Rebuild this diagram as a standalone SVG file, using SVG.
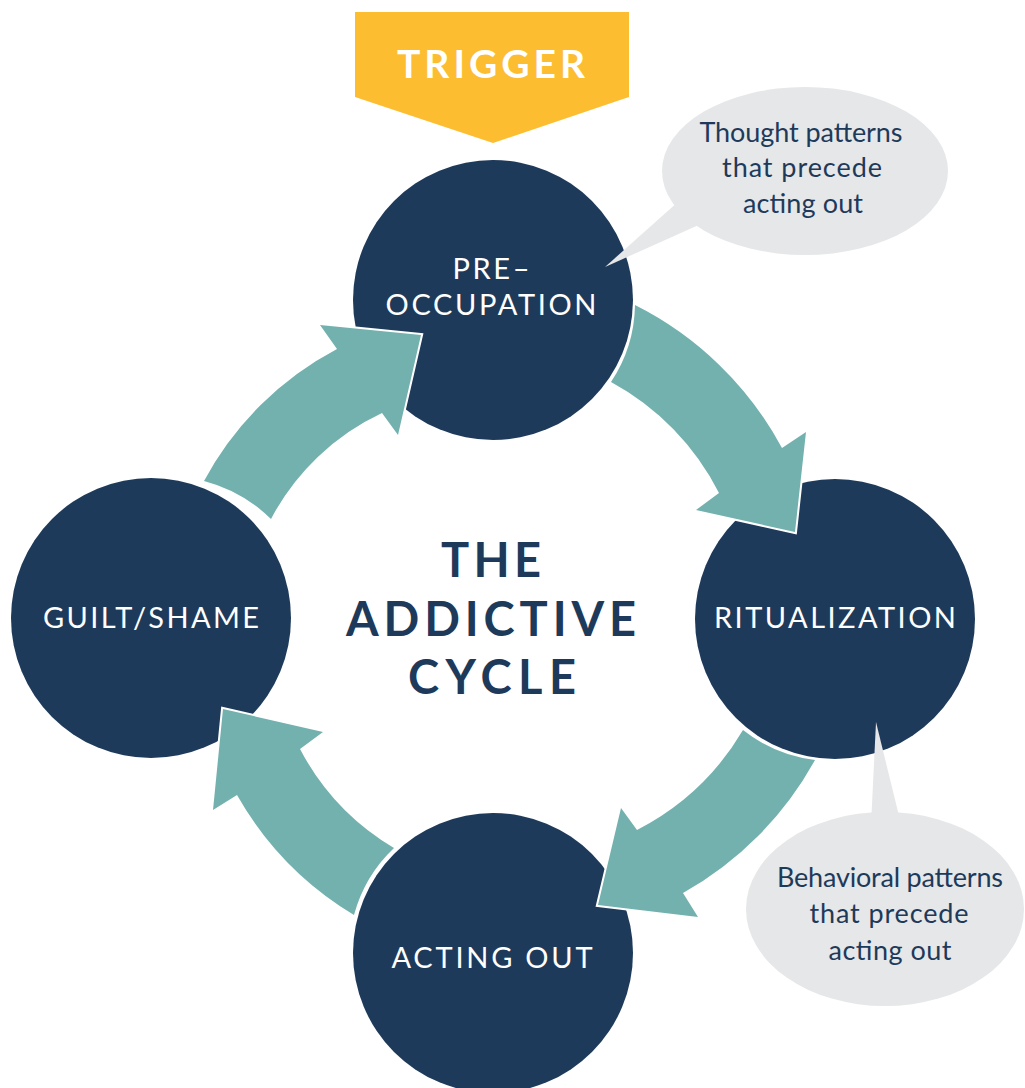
<svg xmlns="http://www.w3.org/2000/svg" width="1025" height="1088" viewBox="0 0 1025 1088">
  <style>
    .node { fill: #1E3A5A; }
    .arrow { fill: #73B1AF; stroke: #FFFFFF; stroke-width: 4; stroke-linejoin: miter; paint-order: stroke; }
    .bubble { fill: #E6E7E8; }
    .label { font-family: Lato, "Open Sans", sans-serif; font-size: 29px; fill: #FFFFFF; text-anchor: middle; }
    .title { font-family: Lato, "Open Sans", sans-serif; font-weight: 700; font-size: 47px; fill: #1E3A5A; text-anchor: middle; }
    .note { font-family: Lato, "Noto Sans", sans-serif; font-size: 27px; fill: #1E3A5A; text-anchor: middle; }
    .trigger { font-family: Lato, "Open Sans", sans-serif; font-weight: 700; font-size: 39px; fill: #FFFFFF; text-anchor: middle; }
  </style>

  <g id="trigger">
    <polygon points="355,12 629,12 629,97 493,143 355,97" fill="#FDBD30"/>
    <text class="trigger" x="491" y="78" textLength="188" lengthAdjust="spacing">TRIGGER</text>
  </g>

  <g id="node-preoccupation">
    <circle class="node" cx="493" cy="300" r="140"/>
  </g>
  <g id="node-ritualization">
    <circle class="node" cx="835" cy="619" r="140"/>
  </g>
  <g id="node-acting-out">
    <circle class="node" cx="493" cy="953" r="140"/>
  </g>
  <g id="node-guilt-shame">
    <circle class="node" cx="151" cy="618" r="140"/>
  </g>

  <g id="connectors">
    <path class="arrow" d="M635,305 A340,340 0 0 1 782,448 L806,432 L795,532 L696,510 L719,493 A260,260 0 0 0 611,382 A143,143 0 0 0 635,305 Z"/>
    <path class="arrow" d="M815,760 A340,340 0 0 1 683,893 L698,917 L598,905 L621,808 L637,830 A262,262 0 0 0 743,730 A143,143 0 0 0 815,760 Z"/>
    <path class="arrow" d="M354,915 A330,330 0 0 1 237,795 L213,810 L223,709 L323,732 L300,749 A250,250 0 0 0 394,848 A144,144 0 0 0 354,915 Z"/>
    <path class="arrow" d="M204,481 A320,320 0 0 1 337,349 L320,325 L421,335 L398,435 L382,413 A240,240 0 0 0 271,519 A150,150 0 0 0 204,481 Z"/>
  </g>

  <g id="bubble-thought">
    <ellipse class="bubble" cx="805" cy="171" rx="143" ry="84"/>
    <polygon class="bubble" points="605,267 688,193 712,219"/>
    <text class="note" x="801" y="142" textLength="203" lengthAdjust="spacing">Thought patterns</text>
    <text class="note" x="802" y="177" textLength="160" lengthAdjust="spacing">that precede</text>
    <text class="note" x="803" y="213" textLength="120" lengthAdjust="spacing">acting out</text>
  </g>

  <g id="bubble-behavior">
    <ellipse class="bubble" cx="885" cy="909" rx="139" ry="97"/>
    <polygon class="bubble" points="876,722 871,825 901,824"/>
    <text class="note" x="890" y="887" textLength="226" lengthAdjust="spacing">Behavioral patterns</text>
    <text class="note" x="889" y="923" textLength="159" lengthAdjust="spacing">that precede</text>
    <text class="note" x="890" y="960" textLength="123" lengthAdjust="spacing">acting out</text>
  </g>

  <g id="labels">
    <text class="label" x="491" y="279" textLength="77" lengthAdjust="spacing">PRE–</text>
    <text class="label" x="491" y="315" textLength="211" lengthAdjust="spacing">OCCUPATION</text>
    <text class="label" x="835" y="628" textLength="242" lengthAdjust="spacing">RITUALIZATION</text>
    <text class="label" x="492" y="968" textLength="201" lengthAdjust="spacing">ACTING OUT</text>
    <text class="label" x="151" y="628" textLength="216" lengthAdjust="spacing">GUILT/SHAME</text>
  </g>

  <g id="center-title">
    <text class="title" x="491" y="577" textLength="100" lengthAdjust="spacing">THE</text>
    <text class="title" x="491" y="636" textLength="290" lengthAdjust="spacing">ADDICTIVE</text>
    <text class="title" x="492" y="694" textLength="168" lengthAdjust="spacing">CYCLE</text>
  </g>
</svg>
